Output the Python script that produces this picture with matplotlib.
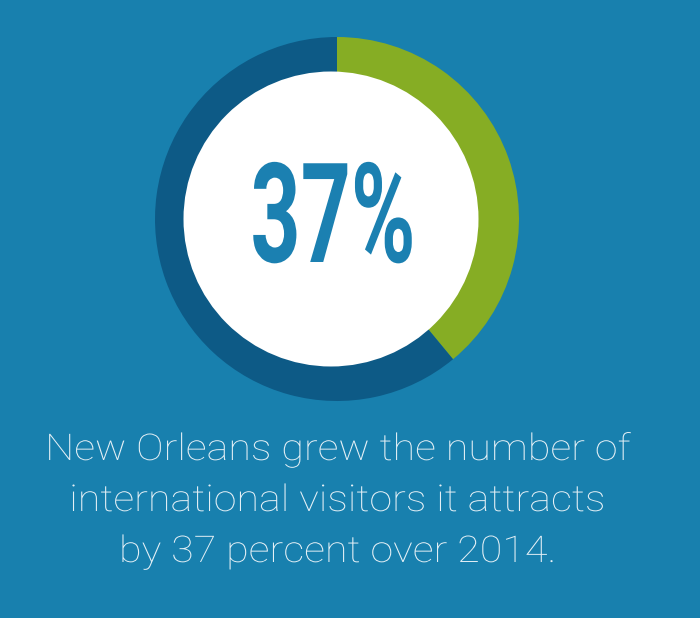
import matplotlib.pyplot as plt
from matplotlib.patches import Circle
from matplotlib.patheffects import AbstractPathEffect
from matplotlib.transforms import Affine2D

# data
arc_share = [39, 61]          # arc as drawn in the picture (~141 degrees)
big_label = "37%"
caption = ["New Orleans grew the number of",
           "international visitors it attracts",
           "by 37 percent over 2014."]

bg = "#1880ae"
ring_colors = ["#86ad24", "#0d5a86"]


class HScale(AbstractPathEffect):
    """squeeze / stretch text horizontally around a fixed x (pixels)"""
    def __init__(self, sx, x0):
        super().__init__()
        self.sx = sx
        self.x0 = x0

    def draw_path(self, renderer, gc, tpath, affine, rgbFace=None):
        t = affine + Affine2D().translate(-self.x0, 0).scale(self.sx, 1).translate(self.x0, 0)
        renderer.draw_path(gc, tpath, t, rgbFace)


fig = plt.figure(figsize=(7, 6.18), dpi=100, facecolor=bg)
ax = fig.add_axes([0, 0, 1, 1])
ax.set_facecolor(bg)

# donut, pixel coordinates (y up)
cx, cy = 337, 618 - 219
ax.pie(arc_share, colors=ring_colors, startangle=90, counterclock=False,
       radius=182, center=(cx, cy),
       wedgeprops=dict(width=48, edgecolor="none"))
ax.add_patch(Circle((cx - 6, cy), 147.5, facecolor="white", edgecolor="none", zorder=3))

ax.set_xlim(0, 700)
ax.set_ylim(0, 618)
ax.set_aspect("auto")
ax.axis("off")

lx = 333
ax.text(lx, 618 - 262, big_label, ha="center", va="baseline", color="#1b80b1",
        fontsize=100, fontweight="bold", zorder=4, family=["Roboto", "DejaVu Sans"],
        path_effects=[HScale(0.63, lx)])

ys = [618 - 460, 618 - 511, 618 - 562]
for line, y in zip(caption, ys):
    ax.text(337, y, line, ha="center", va="baseline", color="#e4f0f6",
            fontsize=26.5, fontweight="light", family=["Roboto", "DejaVu Sans"],
            path_effects=[HScale(1.12, 337)])

fig.savefig("out.png", dpi=100, facecolor=bg)
